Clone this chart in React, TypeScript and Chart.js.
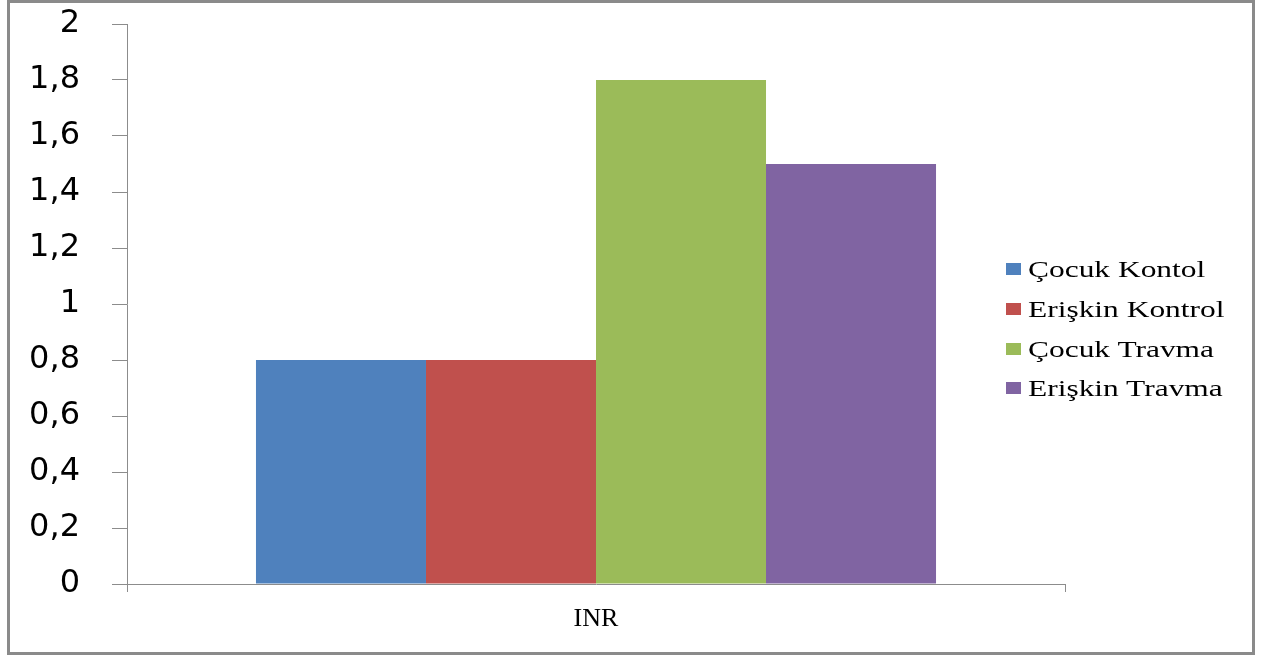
import React, { useEffect, useRef } from "react";
import { Chart, registerables } from "chart.js";

Chart.register(...registerables);

// Chart data
const categories = ["INR"];
const seriesNames = ["Çocuk Kontol", "Erişkin Kontrol", "Çocuk Travma", "Erişkin Travma"];
const seriesColors = ["#4F81BD", "#C0504D", "#9BBB59", "#8064A2"];
const cocukKontrol = [0.8];
const eriskinKontrol = [0.8];
const cocukTravma = [1.8];
const eriskinTravma = [1.5];
const seriesValues = [cocukKontrol, eriskinKontrol, cocukTravma, eriskinTravma];
const yMin = 0;
const yMax = 2;
const yStep = 0.2;

const W = 1271;
const H = 657;

const formatTick = (v: number) => Number(v).toFixed(1).replace(/\.0$/, "").replace(".", ",");

export default function App() {
  const canvasRef = useRef<HTMLCanvasElement | null>(null);

  useEffect(() => {
    if (!canvasRef.current) return;
    const chart = new Chart(canvasRef.current, {
      type: "bar",
      data: {
        labels: categories,
        datasets: seriesNames.map((name, i) => ({
          label: name,
          data: seriesValues[i],
          backgroundColor: seriesColors[i],
          borderWidth: 0,
          categoryPercentage: 0.725,
          barPercentage: 1,
        })),
      },
      options: {
        responsive: false,
        animation: false,
        devicePixelRatio: 1,
        layout: { padding: { top: 24, right: 206, left: 0, bottom: 0 } },
        plugins: {
          legend: { display: false },
          tooltip: { enabled: false },
        },
        scales: {
          x: {
            type: "category",
            grid: {
              offset: true,
              drawOnChartArea: false,
              drawTicks: true,
              tickLength: 8,
              color: "#8c8c8c",
              tickColor: "#8c8c8c",
            },
            border: { color: "#8c8c8c", width: 1 },
            ticks: {
              color: "#000000",
              padding: 12,
              font: { family: "'Liberation Serif', 'Times New Roman', serif", size: 26 },
            },
            afterFit: (scale: any) => {
              scale.height = H - 584;
              scale.paddingLeft = 0;
              scale.paddingRight = 0;
            },
          },
          y: {
            min: yMin,
            max: yMax,
            grid: {
              drawOnChartArea: false,
              drawTicks: true,
              tickLength: 15,
              color: "#8c8c8c",
              tickColor: "#8c8c8c",
            },
            border: { color: "#8c8c8c", width: 1 },
            ticks: {
              stepSize: yStep,
              autoSkip: false,
              color: "#000000",
              padding: 32,
              font: { family: "'DejaVu Sans', Verdana, sans-serif", size: 32 },
              callback: (v: any) => formatTick(Number(v)),
            },
            afterFit: (scale: any) => {
              scale.width = 127;
              scale.paddingTop = 0;
              scale.paddingBottom = 0;
            },
          },
        },
      },
    });
    return () => chart.destroy();
  }, []);

  const rowCenters = [269, 309, 348.5, 388];

  return (
    <div style={{ position: "absolute", left: 0, top: 0, width: W, height: H, background: "#ffffff" }}>
      <canvas ref={canvasRef} width={W} height={H} style={{ position: "absolute", left: 0, top: 0, display: "block" }} />
      {seriesNames.map((name, i) => (
        <React.Fragment key={name}>
          <div
            style={{
              position: "absolute",
              left: 1006,
              top: rowCenters[i] - 6,
              width: 15,
              height: 12,
              background: seriesColors[i],
            }}
          />
          <div
            style={{
              position: "absolute",
              left: 1028,
              top: rowCenters[i] - 20,
              height: 40,
              lineHeight: "40px",
              whiteSpace: "nowrap",
              fontFamily: "'Liberation Serif', 'Times New Roman', serif",
              fontSize: 24,
              color: "#000000",
              transform: "scaleX(1.31)",
              transformOrigin: "0 50%",
            }}
          >
            {name}
          </div>
        </React.Fragment>
      ))}
      <div
        style={{
          position: "absolute",
          left: 7,
          top: 0,
          width: 1248,
          height: 655,
          border: "3px solid #8a8a8a",
          boxSizing: "border-box",
          pointerEvents: "none",
        }}
      />
    </div>
  );
}
